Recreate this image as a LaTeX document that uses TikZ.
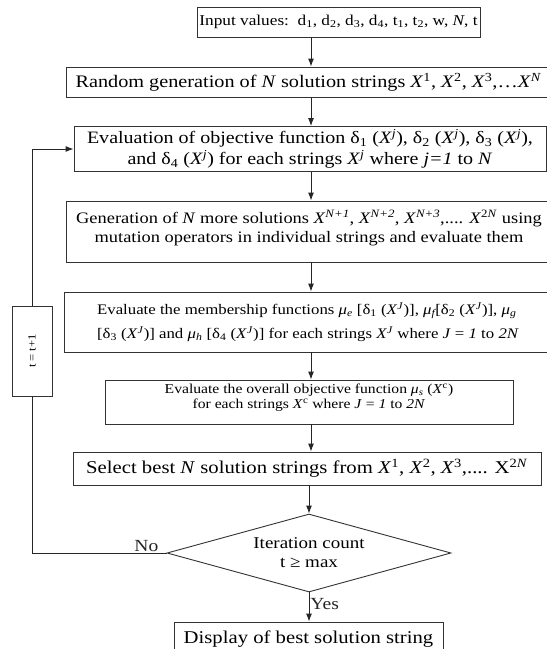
\documentclass[tikz,border=0pt]{standalone}
\usepackage{fontspec}
\setmainfont{Liberation Serif}[FakeStretch=1.15]
\usepackage{graphicx}
\usetikzlibrary{arrows.meta,shapes.geometric,positioning}
\newcommand{\Xsup}[1]{\textit{X}\textsuperscript{#1}}
\newcommand{\fsz}[2]{\fontsize{#1}{#2}\selectfont}
\tikzset{
  procbox/.style={draw=black!80, line width=0.9pt, fill=white, inner sep=2pt, align=center, font=\fsz{15}{18}},
  decision/.style={draw=black!80, line width=0.9pt, shape=diamond, aspect=3.64, inner sep=0pt, align=center, font=\fsz{16.5}{19}},
  flow/.style={-{Latex[length=8pt,width=6pt]}, line width=0.9pt, black!85},
  link/.style={line width=0.9pt, black!85},
  note/.style={font=\fsz{17}{19}, inner sep=1pt}
}
\begin{document}
\begin{tikzpicture}[x=1pt,y=-1pt]
  \useasboundingbox (0,0) rectangle (547,649);
  \coordinate (col) at (311,0);
  \node[procbox, font=\fsz{15}{17}, minimum width=283pt, minimum height=30pt] (input) at (338.5,22)
    {Input values:\ \ d\textsubscript{1}, d\textsubscript{2}, d\textsubscript{3}, d\textsubscript{4}, t\textsubscript{1}, t\textsubscript{2}, w, \textit{N}, t};
  \node[procbox, font=\fsz{17.6}{19}, minimum width=485pt, minimum height=30pt] (randgen) at (308.5,82)
    {Random generation of \textit{N} solution strings \Xsup{1}, \Xsup{2}, \Xsup{3},\dots\Xsup{\textit{N}}};
  \node[procbox, font=\fsz{17.4}{21}, minimum width=472pt, minimum height=45pt] (evalobj) at (310,149)
    {Evaluation of objective function δ\textsubscript{1} (\Xsup{\textit{j}}), δ\textsubscript{2} (\Xsup{\textit{j}}), δ\textsubscript{3} (\Xsup{\textit{j}}),\\
     and δ\textsubscript{4} (\Xsup{\textit{j}}) for each strings \Xsup{\textit{j}} where \textit{j=1} to \textit{N}};
  \node[procbox, font=\fsz{16}{19}, minimum width=486pt, minimum height=61pt] (mutate) at (309,231.5)
    {Generation of \textit{N} more solutions \Xsup{\textit{N+1}}, \Xsup{\textit{N+2}}, \Xsup{\textit{N+3}},.... \Xsup{2\textit{N}} using\\
     mutation operators in individual strings and evaluate them\\[-9pt]};
  \node[procbox, font=\fsz{14.6}{24}, minimum width=488pt, minimum height=60pt, align=left] (member) at (308,322)
    {Evaluate the membership functions \textit{μ\textsubscript{e}} [δ\textsubscript{1} (\Xsup{\textit{J}})], \textit{μ\textsubscript{f}}[δ\textsubscript{2} (\Xsup{\textit{J}})], \textit{μ\textsubscript{g}}\\
     {[}δ\textsubscript{3} (\Xsup{\textit{J}})] and \textit{μ\textsubscript{h}} [δ\textsubscript{4} (\Xsup{\textit{J}})] for each strings \Xsup{\textit{J}} where \textit{J} = \textit{1} to \textit{2N}};
  \node[procbox, font=\fsz{13.6}{15}, minimum width=408pt, minimum height=44pt] (overall) at (309,402)
    {Evaluate the overall objective function \textit{μ\textsubscript{s}} (\Xsup{c})\\
     for each strings \Xsup{c} where \textit{J} = \textit{1} to \textit{2N}\\[-3pt]};
  \node[procbox, font=\fsz{18}{20}, minimum width=468pt, minimum height=33pt] (select) at (307,468.5)
    {Select best \textit{N} solution strings from \Xsup{1}, \Xsup{2}, \Xsup{3},.... X\textsuperscript{2\textit{N}}};
  \node[decision, minimum width=284pt, minimum height=78pt] (check) at (309,553)
    {Iteration count\\ t ≥ max};
  \node[procbox, font=\fsz{18}{20}, minimum width=269pt, minimum height=34pt] (result) at (308.5,639)
    {Display of best solution string};
  \node[procbox, font=\fsz{11}{12}, minimum width=40pt, minimum height=90pt] (incr) at (32,351)
    {\rotatebox{90}{t = t+1}};

  \draw[flow] (input.south -| col) -- (randgen.north -| col);
  \draw[flow] (randgen.south -| col) -- (evalobj.north -| col);
  \draw[flow] (evalobj.south -| col) -- (mutate.north -| col);
  \draw[flow] (mutate.south -| col) -- (member.north -| col);
  \draw[flow] (member.south -| col) -- (overall.north -| col);
  \draw[flow] (overall.south -| col) -- (select.north -| col);
  \draw[flow] (select.south -| check) -- (check.north);
  \draw[flow] (check.south) -- node[note, right, pos=0.4] {Yes} (result.north -| check);
  \draw[link] (check.west) -- node[note, above, pos=0.15] {No} (check.west -| incr) -- (incr.south);
  \draw[flow] (incr.north) |- (evalobj.west);
\end{tikzpicture}
\end{document}
